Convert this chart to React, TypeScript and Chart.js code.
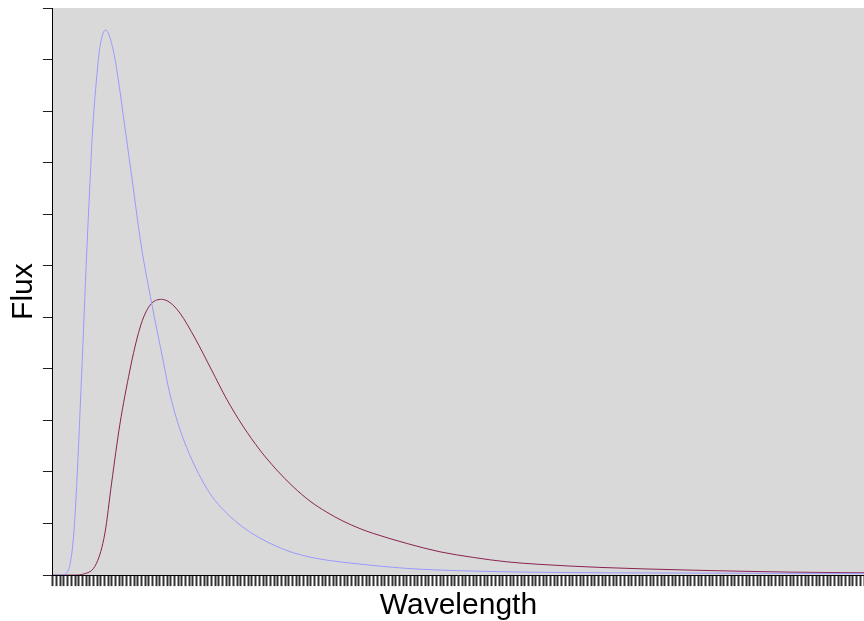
import React, { useEffect, useRef } from "react";
import { Chart, registerables } from "chart.js";

Chart.register(...registerables);

// Wavelength (arbitrary units) and flux values
const blueWavelength = [0, 1.9, 3.26, 4.61, 5.51, 6.24, 7.79, 9.14, 9.96, 10.77, 11.86, 12.75, 14.3, 16.36, 17.63, 19.26, 21.43, 24.06, 26.78, 29.92, 31.55, 33.99, 37.62, 42.59, 47.12, 51.54, 56.16, 60.49, 65.19, 69.72, 74.25, 83.28, 95.95, 114.01, 148.38, 220];
const blueFlux = [0, 0, 0.019, 0.194, 0.679, 1.455, 3.88, 6.208, 7.469, 8.633, 9.642, 10.243, 10.573, 10.185, 9.661, 8.827, 7.702, 6.344, 5.277, 4.152, 3.57, 2.929, 2.25, 1.585, 1.203, 0.931, 0.718, 0.563, 0.433, 0.349, 0.291, 0.213, 0.13, 0.078, 0.045, 0.033];

const redWavelength = [0, 5.97, 8.22, 11.85, 14.11, 15.92, 18.18, 20.89, 22.24, 23.6, 24.96, 26.77, 29.49, 31.74, 34.45, 38.52, 43.05, 47.12, 51.54, 56.16, 60.49, 65.19, 69.72, 74.25, 78.67, 83.28, 86.89, 95.95, 104.98, 114.01, 123.07, 132.11, 148.38, 172.8, 199.92, 220];
const redFlux = [0, 0, 0.019, 0.233, 0.815, 1.785, 2.929, 3.977, 4.423, 4.792, 5.063, 5.271, 5.349, 5.287, 5.083, 4.598, 3.977, 3.414, 2.891, 2.425, 2.056, 1.713, 1.436, 1.222, 1.048, 0.902, 0.809, 0.615, 0.452, 0.343, 0.258, 0.208, 0.149, 0.097, 0.058, 0.045];

const xMin = 0;
const xMax = 220;
const xStep = 1;
const yMin = 0;
const yMax = 11;
const yStep = 1;

const xTitle = "Wavelength";
const yTitle = "Flux";

const plotBackground = {
  id: "plotBackground",
  beforeDraw(chart: any) {
    const { ctx, chartArea } = chart;
    if (!chartArea) return;
    ctx.save();
    ctx.fillStyle = "#d9d9d9";
    ctx.fillRect(chartArea.left, chartArea.top, chartArea.right - chartArea.left, chartArea.bottom - chartArea.top);
    ctx.restore();
  },
};

export default function App() {
  const canvasRef = useRef<HTMLCanvasElement | null>(null);

  useEffect(() => {
    document.body.style.margin = "0";
    const canvas = canvasRef.current;
    if (!canvas) return;
    const font = "'Liberation Sans', Arial, sans-serif";
    const chart = new Chart(canvas, {
      type: "line",
      data: {
        datasets: [
          {
            label: "A",
            data: blueWavelength.map((x, i) => ({ x, y: blueFlux[i] })),
            borderColor: "#9a9aff",
            borderWidth: 1,
            pointRadius: 0,
            fill: false,
            cubicInterpolationMode: "monotone",
          },
          {
            label: "B",
            data: redWavelength.map((x, i) => ({ x, y: redFlux[i] })),
            borderColor: "#8b2252",
            borderWidth: 1,
            pointRadius: 0,
            fill: false,
            cubicInterpolationMode: "monotone",
          },
        ],
      },
      options: {
        animation: false,
        responsive: false,
        maintainAspectRatio: false,
        layout: { padding: { left: 4, right: 0, top: 8, bottom: 0 } },
        plugins: {
          legend: { display: false },
          tooltip: { enabled: false },
        },
        scales: {
          x: {
            type: "linear",
            min: xMin,
            max: xMax,
            ticks: { display: false, stepSize: xStep, autoSkip: false, maxTicksLimit: 1000 },
            grid: { drawOnChartArea: false, tickLength: 11, color: "#333", tickColor: "#333", tickWidth: 2 },
            border: { color: "#000", width: 1 },
            title: {
              display: true,
              text: xTitle,
              color: "#000",
              font: { family: font, size: 30, lineHeight: 1.03 },
              padding: { top: 4, bottom: 0 },
            },
          },
          y: {
            type: "linear",
            min: yMin,
            max: yMax,
            ticks: { display: false, stepSize: yStep },
            grid: { drawOnChartArea: false, tickLength: 10, color: "#222" },
            border: { color: "#000", width: 1 },
            title: {
              display: true,
              text: yTitle,
              color: "#000",
              font: { family: font, size: 30, lineHeight: 1.03 },
              padding: { top: 4, bottom: 4 },
            },
          },
        },
      },
      plugins: [plotBackground],
    });
    return () => chart.destroy();
  }, []);

  return (
    <div style={{ width: 864, height: 621 }}>
      <canvas ref={canvasRef} width={864} height={621} style={{ width: 864, height: 621, display: "block" }} />
    </div>
  );
}
